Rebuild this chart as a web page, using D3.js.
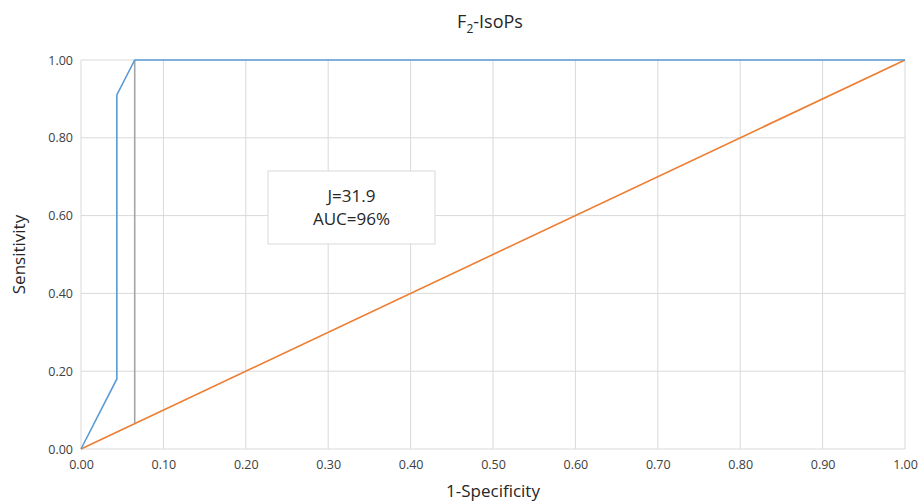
<!DOCTYPE html>
<html>
<head>
<meta charset="utf-8">
<script src="https://cdn.jsdelivr.net/npm/d3@7"></script>
<style>
    body { margin: 0; background: #fff; }
    text { font-family: 'Open Sans', sans-serif; fill: #404040; }
    .grid line { stroke: #d9d9d9; stroke-width: 1; }
    .axis .domain { display: none; }
    .axis line { display: none; }
</style>
</head>
<body>
<svg width="921" height="504"></svg>
<script>
    // ROC curve points (1-specificity, sensitivity)
    var rocX = [0, 0.0435, 0.0435, 0.0652, 1.0];
    var rocY = [0, 0.18, 0.91, 1.0, 1.0];
    // reference diagonal
    var diagX = [0, 1];
    var diagY = [0, 1];
    // Youden index line
    var youdenX = [0.0652, 0.0652];
    var youdenY = [0.066, 1.0];
    var tickVals = [0, 0.1, 0.2, 0.3, 0.4, 0.5, 0.6, 0.7, 0.8, 0.9, 1.0];
    var yTickVals = [0, 0.2, 0.4, 0.6, 0.8, 1.0];
    var boxLines = ["J=31.9", "AUC=96%"];

    var svg = d3.select("svg"),
        margin = { top: 60, right: 16, bottom: 55, left: 81 },
        width = 921 - margin.left - margin.right,
        height = 504 - margin.top - margin.bottom,
        g = svg.append("g").attr("transform", "translate(" + margin.left + "," + margin.top + ")");

    var x = d3.scaleLinear().domain([0, 1]).range([0, width]);
    var y = d3.scaleLinear().domain([0, 1]).range([height, 0]);

    // gridlines
    g.append("g").attr("class", "grid")
        .selectAll("line").data(tickVals).enter().append("line")
        .attr("x1", function (d) { return x(d); }).attr("x2", function (d) { return x(d); })
        .attr("y1", 0).attr("y2", height);
    g.append("g").attr("class", "grid")
        .selectAll("line").data(yTickVals).enter().append("line")
        .attr("x1", 0).attr("x2", width)
        .attr("y1", function (d) { return y(d); }).attr("y2", function (d) { return y(d); });

    g.append("g")
        .attr("class", "axis")
        .attr("transform", "translate(0," + height + ")")
        .call(d3.axisBottom(x).tickValues(tickVals).tickFormat(d3.format(".2f")).tickSize(0).tickPadding(11))
        .selectAll("text").style("font-size", "12.5px").style("fill", "#404040");

    g.append("g")
        .attr("class", "axis")
        .call(d3.axisLeft(y).tickValues(yTickVals).tickFormat(d3.format(".2f")).tickSize(0).tickPadding(8))
        .selectAll("text").style("font-size", "12.5px").style("fill", "#404040");

    var line = d3.line().x(function (d) { return x(d[0]); }).y(function (d) { return y(d[1]); });

    g.append("path")
        .datum(d3.zip(diagX, diagY))
        .attr("d", line).attr("fill", "none")
        .attr("stroke", "#ed7d31").attr("stroke-width", 1.6);

    g.append("path")
        .datum(d3.zip(youdenX, youdenY))
        .attr("d", line).attr("fill", "none")
        .attr("stroke", "#a5a5a5").attr("stroke-width", 1.6);

    g.append("path")
        .datum(d3.zip(rocX, rocY))
        .attr("d", line).attr("fill", "none")
        .attr("stroke", "#5b9bd5").attr("stroke-width", 1.6);

    // annotation box
    var box = svg.append("g").attr("transform", "translate(268,171)");
    box.append("rect").attr("width", 167).attr("height", 73)
        .attr("fill", "#fff").attr("stroke", "#d9d9d9");
    box.selectAll("text").data(boxLines).enter().append("text")
        .attr("x", 83.5).attr("y", function (d, i) { return 31 + i * 23; })
        .attr("text-anchor", "middle")
        .style("font-size", "17px").style("fill", "#262626")
        .text(function (d) { return d; });

    // title
    var title = svg.append("text")
        .attr("x", 490).attr("y", 28)
        .attr("text-anchor", "middle")
        .style("font-size", "18px").style("fill", "#262626");
    title.append("tspan").text("F");
    title.append("tspan").attr("dy", 5).style("font-size", "12px").text("2");
    title.append("tspan").attr("dy", -5).text("-IsoPs");

    svg.append("text")
        .attr("transform", "translate(25," + (margin.top + height / 2) + ") rotate(-90)")
        .attr("text-anchor", "middle")
        .style("font-size", "17px").style("fill", "#262626")
        .text("Sensitivity");

    svg.append("text")
        .attr("x", margin.left + width / 2).attr("y", 497)
        .attr("text-anchor", "middle")
        .style("font-size", "17px").style("fill", "#262626")
        .text("1-Specificity");
</script>
</body>
</html>
